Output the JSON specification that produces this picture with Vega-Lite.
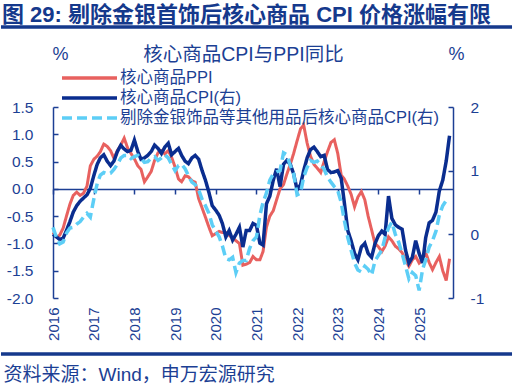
{
  "$schema": "https://vega.github.io/schema/vega-lite/v6.json",
  "width": 400,
  "height": 191,
  "autosize": "none",
  "padding": {"left": 53, "top": 107, "right": 67, "bottom": 91},
  "background": "white",
  "config": {
    "font": "Liberation Sans, Noto Sans CJK SC, sans-serif",
    "view": {"stroke": null},
    "locale": {"number": {"decimal": ".", "thousands": ",", "grouping": [3], "currency": ["", ""], "minus": "-"}},
    "axis": {"grid": false}
  },
  "title": {
    "text": "图 29: 剔除金银首饰后核心商品 CPI 价格涨幅有限",
    "anchor": "start",
    "frame": "group",
    "dx": -51,
    "dy": 20,
    "offset": 18,
    "fontSize": 22,
    "fontWeight": "bold",
    "color": "#15398c"
  },
  "datasets": {
    "m": [
      {"d": "2016-01-01", "ppi": -0.80, "cpi": 0.00, "ex": 0.11},
      {"d": "2016-02-01", "ppi": -0.88, "cpi": -0.04, "ex": -0.05},
      {"d": "2016-03-01", "ppi": -0.85, "cpi": -0.08, "ex": -0.15},
      {"d": "2016-04-01", "ppi": -0.72, "cpi": -0.06, "ex": -0.12},
      {"d": "2016-05-01", "ppi": -0.50, "cpi": 0.06, "ex": 0.02},
      {"d": "2016-06-01", "ppi": -0.28, "cpi": 0.20, "ex": 0.10},
      {"d": "2016-07-01", "ppi": -0.12, "cpi": 0.35, "ex": 0.11},
      {"d": "2016-08-01", "ppi": -0.06, "cpi": 0.45, "ex": 0.16},
      {"d": "2016-09-01", "ppi": -0.12, "cpi": 0.52, "ex": 0.20},
      {"d": "2016-10-01", "ppi": -0.08, "cpi": 0.57, "ex": 0.27},
      {"d": "2016-11-01", "ppi": 0.05, "cpi": 0.62, "ex": 0.33},
      {"d": "2016-12-01", "ppi": 0.42, "cpi": 0.72, "ex": 0.27},
      {"d": "2017-01-01", "ppi": 0.54, "cpi": 0.92, "ex": 0.55},
      {"d": "2017-02-01", "ppi": 0.60, "cpi": 1.10, "ex": 0.80},
      {"d": "2017-03-01", "ppi": 0.68, "cpi": 1.20, "ex": 0.93},
      {"d": "2017-04-01", "ppi": 0.82, "cpi": 1.25, "ex": 0.97},
      {"d": "2017-05-01", "ppi": 0.78, "cpi": 1.15, "ex": 0.95},
      {"d": "2017-06-01", "ppi": 0.70, "cpi": 1.08, "ex": 0.96},
      {"d": "2017-07-01", "ppi": 0.56, "cpi": 1.15, "ex": 1.02},
      {"d": "2017-08-01", "ppi": 0.70, "cpi": 1.30, "ex": 1.10},
      {"d": "2017-09-01", "ppi": 0.80, "cpi": 1.40, "ex": 1.20},
      {"d": "2017-10-01", "ppi": 0.93, "cpi": 1.34, "ex": 1.24},
      {"d": "2017-11-01", "ppi": 0.75, "cpi": 1.30, "ex": 1.24},
      {"d": "2017-12-01", "ppi": 0.65, "cpi": 1.32, "ex": 1.19},
      {"d": "2018-01-01", "ppi": 0.55, "cpi": 1.48, "ex": 1.22},
      {"d": "2018-02-01", "ppi": 0.42, "cpi": 1.30, "ex": 1.24},
      {"d": "2018-03-01", "ppi": 0.36, "cpi": 1.18, "ex": 1.19},
      {"d": "2018-04-01", "ppi": 0.13, "cpi": 1.20, "ex": 1.13},
      {"d": "2018-05-01", "ppi": 0.22, "cpi": 1.24, "ex": 1.14},
      {"d": "2018-06-01", "ppi": 0.32, "cpi": 1.30, "ex": 1.20},
      {"d": "2018-07-01", "ppi": 0.52, "cpi": 1.40, "ex": 1.22},
      {"d": "2018-08-01", "ppi": 0.66, "cpi": 1.35, "ex": 1.16},
      {"d": "2018-09-01", "ppi": 0.70, "cpi": 1.27, "ex": 1.20},
      {"d": "2018-10-01", "ppi": 0.64, "cpi": 1.37, "ex": 1.25},
      {"d": "2018-11-01", "ppi": 0.70, "cpi": 1.43, "ex": 1.20},
      {"d": "2018-12-01", "ppi": 0.58, "cpi": 1.25, "ex": 1.10},
      {"d": "2019-01-01", "ppi": 0.40, "cpi": 1.30, "ex": 1.00},
      {"d": "2019-02-01", "ppi": 0.18, "cpi": 1.35, "ex": 1.08},
      {"d": "2019-03-01", "ppi": 0.13, "cpi": 1.24, "ex": 1.10},
      {"d": "2019-04-01", "ppi": 0.24, "cpi": 1.15, "ex": 1.03},
      {"d": "2019-05-01", "ppi": 0.22, "cpi": 1.11, "ex": 0.92},
      {"d": "2019-06-01", "ppi": 0.15, "cpi": 1.20, "ex": 0.82},
      {"d": "2019-07-01", "ppi": 0.12, "cpi": 1.24, "ex": 0.78},
      {"d": "2019-08-01", "ppi": -0.18, "cpi": 1.18, "ex": 0.70},
      {"d": "2019-09-01", "ppi": -0.35, "cpi": 1.00, "ex": 0.55},
      {"d": "2019-10-01", "ppi": -0.52, "cpi": 0.85, "ex": 0.45},
      {"d": "2019-11-01", "ppi": -0.70, "cpi": 0.66, "ex": 0.33},
      {"d": "2019-12-01", "ppi": -0.86, "cpi": 0.45, "ex": 0.15},
      {"d": "2020-01-01", "ppi": -0.82, "cpi": 0.38, "ex": 0.05},
      {"d": "2020-02-01", "ppi": -0.78, "cpi": 0.30, "ex": -0.04},
      {"d": "2020-03-01", "ppi": -0.80, "cpi": 0.17, "ex": -0.18},
      {"d": "2020-04-01", "ppi": -0.80, "cpi": -0.04, "ex": -0.38},
      {"d": "2020-05-01", "ppi": -0.85, "cpi": 0.06, "ex": -0.40},
      {"d": "2020-06-01", "ppi": -0.90, "cpi": -0.09, "ex": -0.36},
      {"d": "2020-07-01", "ppi": -0.95, "cpi": 0.00, "ex": -0.60},
      {"d": "2020-08-01", "ppi": -1.00, "cpi": 0.11, "ex": -0.45},
      {"d": "2020-09-01", "ppi": -1.40, "cpi": -0.20, "ex": -0.41},
      {"d": "2020-10-01", "ppi": -1.38, "cpi": 0.06, "ex": -0.41},
      {"d": "2020-11-01", "ppi": -1.35, "cpi": 0.06, "ex": -0.22},
      {"d": "2020-12-01", "ppi": -1.24, "cpi": 0.17, "ex": -0.10},
      {"d": "2021-01-01", "ppi": -1.30, "cpi": 0.14, "ex": -0.04},
      {"d": "2021-02-01", "ppi": -1.30, "cpi": -0.14, "ex": 0.30},
      {"d": "2021-03-01", "ppi": -1.15, "cpi": -0.17, "ex": 0.50},
      {"d": "2021-04-01", "ppi": -0.70, "cpi": 0.48, "ex": 0.65},
      {"d": "2021-05-01", "ppi": -0.50, "cpi": 0.60, "ex": 0.85},
      {"d": "2021-06-01", "ppi": -0.40, "cpi": 0.85, "ex": 0.95},
      {"d": "2021-07-01", "ppi": -0.20, "cpi": 1.03, "ex": 0.98},
      {"d": "2021-08-01", "ppi": 0.00, "cpi": 0.75, "ex": 1.00},
      {"d": "2021-09-01", "ppi": 0.08, "cpi": 1.10, "ex": 1.28},
      {"d": "2021-10-01", "ppi": 0.27, "cpi": 1.16, "ex": 1.25},
      {"d": "2021-11-01", "ppi": 0.45, "cpi": 1.10, "ex": 1.08},
      {"d": "2021-12-01", "ppi": 0.65, "cpi": 0.95, "ex": 0.95},
      {"d": "2022-01-01", "ppi": 0.88, "cpi": 0.70, "ex": 0.62},
      {"d": "2022-02-01", "ppi": 1.10, "cpi": 0.78, "ex": 0.65},
      {"d": "2022-03-01", "ppi": 1.17, "cpi": 1.00, "ex": 0.90},
      {"d": "2022-04-01", "ppi": 0.84, "cpi": 1.20, "ex": 1.05},
      {"d": "2022-05-01", "ppi": 0.60, "cpi": 1.33, "ex": 1.16},
      {"d": "2022-06-01", "ppi": 0.45, "cpi": 1.37, "ex": 1.13},
      {"d": "2022-07-01", "ppi": 0.38, "cpi": 1.30, "ex": 1.15},
      {"d": "2022-08-01", "ppi": 0.30, "cpi": 1.22, "ex": 1.10},
      {"d": "2022-09-01", "ppi": 0.50, "cpi": 1.24, "ex": 1.02},
      {"d": "2022-10-01", "ppi": 0.68, "cpi": 1.02, "ex": 0.90},
      {"d": "2022-11-01", "ppi": 0.85, "cpi": 0.97, "ex": 0.82},
      {"d": "2022-12-01", "ppi": 0.90, "cpi": 0.98, "ex": 0.75},
      {"d": "2023-01-01", "ppi": 0.65, "cpi": 1.00, "ex": 0.69},
      {"d": "2023-02-01", "ppi": 0.25, "cpi": 0.88, "ex": 0.50},
      {"d": "2023-03-01", "ppi": 0.18, "cpi": 0.50, "ex": 0.22},
      {"d": "2023-04-01", "ppi": 0.05, "cpi": 0.06, "ex": -0.05},
      {"d": "2023-05-01", "ppi": -0.10, "cpi": -0.10, "ex": -0.25},
      {"d": "2023-06-01", "ppi": -0.33, "cpi": -0.30, "ex": -0.45},
      {"d": "2023-07-01", "ppi": -0.15, "cpi": -0.40, "ex": -0.56},
      {"d": "2023-08-01", "ppi": -0.05, "cpi": -0.20, "ex": -0.59},
      {"d": "2023-09-01", "ppi": -0.20, "cpi": -0.14, "ex": -0.50},
      {"d": "2023-10-01", "ppi": -0.50, "cpi": -0.30, "ex": -0.55},
      {"d": "2023-11-01", "ppi": -0.75, "cpi": -0.36, "ex": -0.64},
      {"d": "2023-12-01", "ppi": -1.00, "cpi": -0.15, "ex": -0.42},
      {"d": "2024-01-01", "ppi": -1.06, "cpi": -0.02, "ex": -0.33},
      {"d": "2024-02-01", "ppi": -1.15, "cpi": 0.05, "ex": -0.25},
      {"d": "2024-03-01", "ppi": -1.05, "cpi": 0.00, "ex": -0.05},
      {"d": "2024-04-01", "ppi": -0.88, "cpi": 0.60, "ex": 0.10},
      {"d": "2024-05-01", "ppi": -0.95, "cpi": 0.25, "ex": 0.19},
      {"d": "2024-06-01", "ppi": -1.05, "cpi": 0.15, "ex": 0.00},
      {"d": "2024-07-01", "ppi": -1.10, "cpi": 0.11, "ex": -0.12},
      {"d": "2024-08-01", "ppi": -1.17, "cpi": 0.08, "ex": -0.30},
      {"d": "2024-09-01", "ppi": -1.30, "cpi": -0.25, "ex": -0.50},
      {"d": "2024-10-01", "ppi": -1.42, "cpi": -0.45, "ex": -0.70},
      {"d": "2024-11-01", "ppi": -1.30, "cpi": -0.36, "ex": -0.60},
      {"d": "2024-12-01", "ppi": -1.24, "cpi": -0.10, "ex": -0.65},
      {"d": "2025-01-01", "ppi": -1.36, "cpi": -0.30, "ex": -0.88},
      {"d": "2025-02-01", "ppi": -1.30, "cpi": -0.45, "ex": -0.55},
      {"d": "2025-03-01", "ppi": -1.17, "cpi": -0.05, "ex": -0.40},
      {"d": "2025-04-01", "ppi": -1.35, "cpi": 0.18, "ex": -0.20},
      {"d": "2025-05-01", "ppi": -1.48, "cpi": 0.22, "ex": -0.10},
      {"d": "2025-06-01", "ppi": -1.35, "cpi": 0.35, "ex": 0.05},
      {"d": "2025-07-01", "ppi": -1.24, "cpi": 0.68, "ex": 0.30},
      {"d": "2025-08-01", "ppi": -1.50, "cpi": 0.85, "ex": 0.45},
      {"d": "2025-09-01", "ppi": -1.68, "cpi": 1.15, "ex": 0.53},
      {"d": "2025-10-01", "ppi": -1.28, "cpi": 1.55, "ex": 0.52}
    ]
  },
  "data": {"name": "m"},
  "layer": [
    {
      "data": {"values": [{}]},
      "layer": [
        {
          "mark": {"type": "rule", "color": "#15398c", "strokeWidth": 3.5},
          "encoding": {
            "y": {"datum": 2.966, "type": "quantitative", "scale": {"domain": [-2, 1.5], "nice": false, "zero": false}, "axis": null}
          }
        },
        {
          "mark": {"type": "rule", "color": "#15398c", "strokeWidth": 3.5},
          "encoding": {
            "y": {"datum": -3.026, "type": "quantitative", "scale": {"domain": [-2, 1.5], "nice": false, "zero": false}, "axis": null}
          }
        }
      ],
      "encoding": {
        "x": {"datum": {"year": 2014, "month": 9, "date": 21, "utc": true}, "type": "temporal", "axis": null},
        "x2": {"datum": {"year": 2027, "month": 4, "date": 15, "utc": true}}
      }
    },
    {
      "transform": [{"fold": ["ppi"], "as": ["k", "v"]}],
      "mark": {"type": "line", "strokeWidth": 3},
      "encoding": {
        "x": {
          "field": "d",
          "type": "temporal",
          "scale": {"type": "utc", "domain": [{"year": 2016, "month": 1, "date": 1, "utc": true}, {"year": 2025, "month": 11, "date": 1, "utc": true}]},
          "axis": {
            "orient": "bottom",
            "format": "%Y",
            "tickCount": {"interval": "year", "step": 1},
            "labelAngle": 270,
            "labelAlign": "right",
            "labelBaseline": "middle",
            "labelPadding": 9,
            "labelFontSize": 15,
            "labelColor": "#1c3f94",
            "labelFlush": false,
            "labelOverlap": false,
            "domain": false,
            "ticks": false,
            "title": "资料来源：Wind，申万宏源研究",
            "titleX": -50,
            "titleY": 76,
            "titleAlign": "left",
            "titleAnchor": null,
            "titleBaseline": "middle",
            "titleFontSize": 19,
            "titleFontWeight": "normal",
            "titleColor": "#1c3f94"
          }
        },
        "y": {
          "field": "v",
          "type": "quantitative",
          "scale": {"domain": [-2, 1.5], "nice": false, "zero": false},
          "axis": {
            "orient": "left",
            "values": [-2, -1.5, -1, -0.5, 0, 0.5, 1, 1.5],
            "format": ".1f",
            "tickSize": -5,
            "tickWidth": 1.5,
            "tickColor": "#1c3f94",
            "domainColor": "#1c3f94",
            "domainWidth": 1.5,
            "labelFontSize": 15.5,
            "labelColor": "#1c3f94",
            "labelPadding": 25,
            "title": "%",
            "titleAngle": 0,
            "titleX": 7,
            "titleY": -53,
            "titleAlign": "center",
            "titleBaseline": "middle",
            "titleFontSize": 18,
            "titleFontWeight": "normal",
            "titleColor": "#1c3f94"
          }
        },
        "color": {
          "field": "k",
          "type": "nominal",
          "scale": {"domain": ["ppi", "cpi", "ex"], "range": ["#e8615f", "#0a2d8f", "#5dcef6"]},
          "legend": {
            "orient": "none", "legendX": 7, "legendY": -39, "title": null, "padding": 0,
            "symbolType": "stroke", "symbolSize": 3025, "symbolStrokeWidth": 3.5, "clipHeight": 20, "rowPadding": 0,
            "labelFontSize": 16.5, "labelColor": "#1c3f94", "labelOffset": 1, "labelLimit": 500,
            "labelExpr": "datum.value == 'ppi' ? '核心商品PPI' : datum.value == 'cpi' ? '核心商品CPI(右)' : '剔除金银饰品等其他用品后核心商品CPI(右)'"
          }
        },
        "strokeDash": {
          "field": "k",
          "type": "nominal",
          "scale": {"domain": ["ppi", "cpi", "ex"], "range": [[1, 0], [1, 0], [10, 5]]},
          "legend": {
            "orient": "none", "legendX": 7, "legendY": -39, "title": null, "padding": 0,
            "symbolType": "stroke", "symbolSize": 3025, "symbolStrokeWidth": 3.5, "clipHeight": 20, "rowPadding": 0,
            "labelFontSize": 16.5, "labelColor": "#1c3f94", "labelOffset": 1, "labelLimit": 500,
            "labelExpr": "datum.value == 'ppi' ? '核心商品PPI' : datum.value == 'cpi' ? '核心商品CPI(右)' : '剔除金银饰品等其他用品后核心商品CPI(右)'"
          }
        }
      }
    },
    {
      "layer": [
        {
          "transform": [{"fold": ["cpi"], "as": ["k", "v"]}],
          "mark": {"type": "line", "strokeWidth": 3.5}
        },
        {
          "transform": [{"fold": ["ex"], "as": ["k", "v"]}],
          "mark": {"type": "line", "strokeWidth": 3.5}
        }
      ],
      "encoding": {
        "x": {
          "field": "d",
          "type": "temporal",
          "scale": {"type": "utc", "domain": [{"year": 2016, "month": 1, "date": 1, "utc": true}, {"year": 2025, "month": 11, "date": 1, "utc": true}]},
          "axis": {
            "orient": "bottom",
            "offset": -109,
            "labels": false,
            "tickCount": {"interval": "year", "step": 1},
            "domain": true,
            "domainColor": "#1c3f94",
            "domainWidth": 1.5,
            "ticks": true,
            "tickColor": "#1c3f94",
            "tickWidth": 1.5,
            "tickSize": 5,
            "title": "核心商品CPI与PPI同比",
            "titleX": 190,
            "titleY": -135,
            "titleAlign": "center",
            "titleBaseline": "middle",
            "titleAnchor": null,
            "titleFontSize": 19.5,
            "titleFontWeight": "normal",
            "titleColor": "#1c3f94"
          }
        },
        "y": {
          "field": "v",
          "type": "quantitative",
          "scale": {"domain": [-1, 2], "nice": false, "zero": false},
          "axis": {
            "orient": "right",
            "values": [-1, 0, 1, 2],
            "format": "d",
            "tickSize": -5,
            "tickWidth": 1.5,
            "tickColor": "#1c3f94",
            "domainColor": "#1c3f94",
            "domainWidth": 1.5,
            "labelFontSize": 15.5,
            "labelColor": "#1c3f94",
            "labelPadding": 22,
            "title": "%",
            "titleAngle": 0,
            "titleX": 3,
            "titleY": -53,
            "titleAlign": "center",
            "titleBaseline": "middle",
            "titleFontSize": 18,
            "titleFontWeight": "normal",
            "titleColor": "#1c3f94"
          }
        },
        "color": {
          "field": "k",
          "type": "nominal",
          "scale": {"domain": ["ppi", "cpi", "ex"], "range": ["#e8615f", "#0a2d8f", "#5dcef6"]},
          "legend": {
            "orient": "none", "legendX": 7, "legendY": -39, "title": null, "padding": 0,
            "symbolType": "stroke", "symbolSize": 3025, "symbolStrokeWidth": 3.5, "clipHeight": 20, "rowPadding": 0,
            "labelFontSize": 16.5, "labelColor": "#1c3f94", "labelOffset": 1, "labelLimit": 500,
            "labelExpr": "datum.value == 'ppi' ? '核心商品PPI' : datum.value == 'cpi' ? '核心商品CPI(右)' : '剔除金银饰品等其他用品后核心商品CPI(右)'"
          }
        },
        "strokeDash": {
          "field": "k",
          "type": "nominal",
          "scale": {"domain": ["ppi", "cpi", "ex"], "range": [[1, 0], [1, 0], [10, 5]]},
          "legend": {
            "orient": "none", "legendX": 7, "legendY": -39, "title": null, "padding": 0,
            "symbolType": "stroke", "symbolSize": 3025, "symbolStrokeWidth": 3.5, "clipHeight": 20, "rowPadding": 0,
            "labelFontSize": 16.5, "labelColor": "#1c3f94", "labelOffset": 1, "labelLimit": 500,
            "labelExpr": "datum.value == 'ppi' ? '核心商品PPI' : datum.value == 'cpi' ? '核心商品CPI(右)' : '剔除金银饰品等其他用品后核心商品CPI(右)'"
          }
        }
      }
    }
  ],
  "resolve": {"scale": {"y": "independent"}, "axis": {"x": "independent", "y": "independent"}}
}
